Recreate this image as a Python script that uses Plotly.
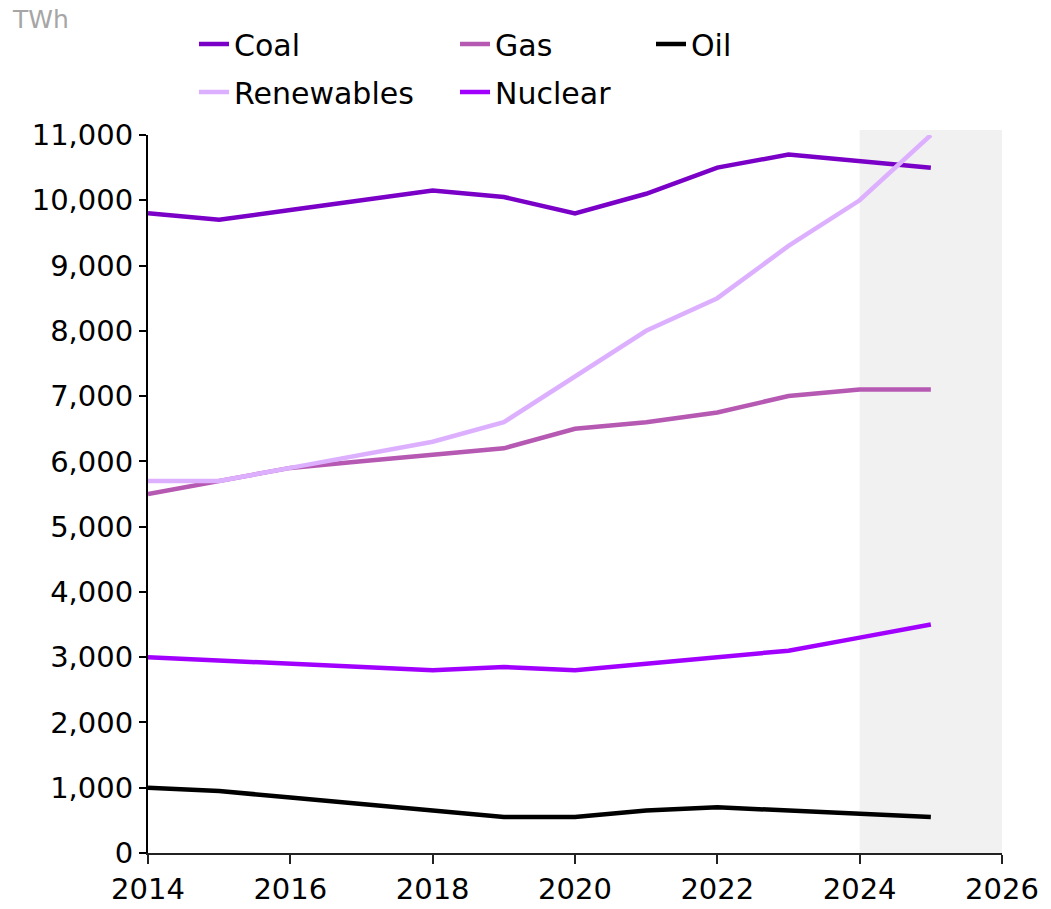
import plotly.graph_objects as go

years = list(range(2014, 2026))
coal = [9800, 9700, 9850, 10000, 10150, 10050, 9800, 10100, 10500, 10700, 10600, 10500]
gas = [5500, 5700, 5900, 6000, 6100, 6200, 6500, 6600, 6750, 7000, 7100, 7100]
oil = [1000, 950, 850, 750, 650, 550, 550, 650, 700, 650, 600, 550]
renewables = [5700, 5700, 5900, 6100, 6300, 6600, 7300, 8000, 8500, 9300, 10000, 11000]
nuclear = [3000, 2950, 2900, 2850, 2800, 2850, 2800, 2900, 3000, 3100, 3300, 3500]

series_names = ["Coal", "Gas", "Oil", "Renewables", "Nuclear"]
series_values = [coal, gas, oil, renewables, nuclear]
series_colors = ["#7A00C8", "#B659B2", "#000000", "#DDB0FF", "#A100FF"]
legend_ids = ["legend", "legend2", "legend3", "legend4", "legend5"]

x_ticks = [2014, 2016, 2018, 2020, 2022, 2024, 2026]
y_ticks = list(range(0, 11001, 1000))
forecast_start, forecast_end = 2024, 2026

FONT = "DejaVu Sans"
W, H = 1051, 909
ml, mr, mt, mb = 148, 49, 135, 56
plot_h = H - mt - mb
plot_w = W - ml - mr

fig = go.Figure()

for name, vals, col, lg in zip(series_names, series_values, series_colors, legend_ids):
    fig.add_trace(go.Scatter(
        x=years, y=vals, mode="lines", name=name,
        line=dict(color=col, width=4.5), legend=lg,
    ))

# forecast shading
fig.add_shape(type="rect", xref="x", yref="paper",
              x0=forecast_start, x1=forecast_end, y0=0, y1=1 + 5 / plot_h,
              fillcolor="#F1F1F1", line=dict(width=0), layer="below")

def px_to_paper_x(px):
    return (px - ml) / plot_w

def px_to_paper_y(py):
    return (H - mb - py) / plot_h

legend_pos = {
    "legend": (194, 44),
    "legend2": (455, 44),
    "legend3": (651, 44),
    "legend4": (194, 92),
    "legend5": (455, 92),
}
legend_layouts = {}
for lg, (px, py) in legend_pos.items():
    legend_layouts[lg] = dict(
        x=px_to_paper_x(px), y=px_to_paper_y(py),
        xanchor="left", yanchor="middle",
        bgcolor="rgba(0,0,0,0)", borderwidth=0,
        font=dict(family=FONT, size=30, color="#000000"),
        itemwidth=30,
    )

fig.update_layout(
    width=W, height=H,
    margin=dict(l=ml, r=mr, t=mt, b=mb, autoexpand=False),
    plot_bgcolor="white", paper_bgcolor="white",
    showlegend=True,
    font=dict(family=FONT, size=29, color="#000000"),
    **legend_layouts,
)

fig.update_xaxes(
    range=[2014, 2026], tickvals=x_ticks, ticktext=[str(t) for t in x_ticks],
    showgrid=False, zeroline=False,
    showline=True, linecolor="#222222", linewidth=1.5,
    ticks="outside", ticklen=9, tickwidth=1.5, tickcolor="#222222",
    tickfont=dict(family=FONT, size=29, color="#000000"),
)
fig.update_yaxes(
    range=[0, 11000], tickvals=y_ticks,
    ticktext=[f"{v:,}" for v in y_ticks],
    showgrid=False, zeroline=False,
    showline=True, linecolor="#000000", linewidth=2,
    ticks="outside", ticklen=7, tickwidth=1.5, tickcolor="#000000",
    tickfont=dict(family=FONT, size=29, color="#000000"),
)

fig.add_annotation(text="TWh", xref="paper", yref="paper",
                   x=px_to_paper_x(10), y=px_to_paper_y(20),
                   xanchor="left", yanchor="middle", showarrow=False,
                   font=dict(family=FONT, size=25, color="#A6A6A6"))

fig.write_html("out.html", config={"displayModeBar": False},
               post_script="document.body.style.margin='0';")
